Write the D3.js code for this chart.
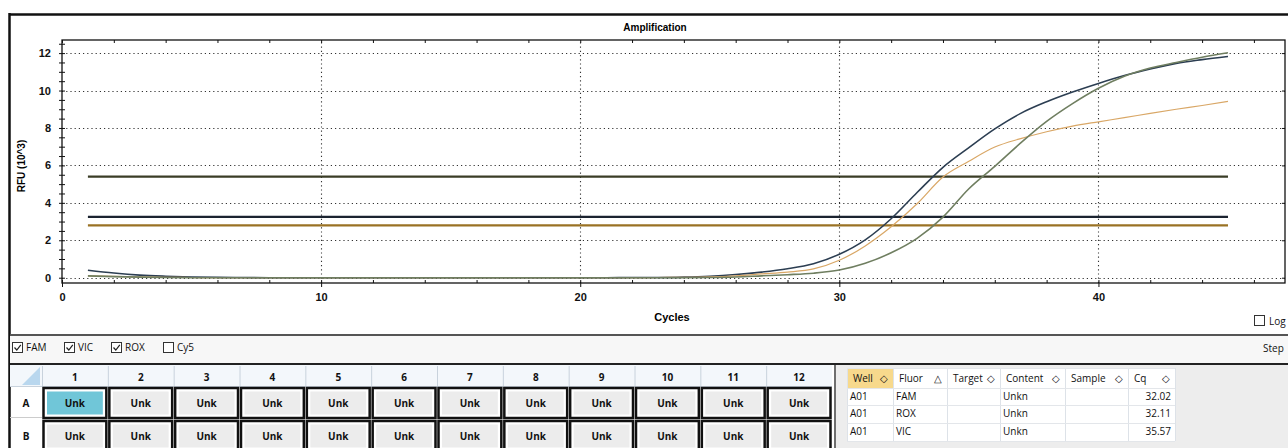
<!DOCTYPE html>
<html>
<head>
<meta charset="utf-8">
<script src="https://cdn.jsdelivr.net/npm/d3@7"></script>
<style>
  body { margin: 0; background: #fff; }
  svg { display: block; }
  .axis text { font-family: 'Liberation Sans', Arial, sans-serif; font-weight: bold; font-size: 11px; fill: #111; }
  .ui { font-family: 'Open Sans', 'Noto Sans', sans-serif; font-size: 10px; fill: #111; }
</style>
</head>
<body>
<svg id="chart" width="1288" height="448"></svg>
<script>
// amplification data (RFU x10^3 per cycle)
const cycles = d3.range(1, 46)
const famRfu = [0.40, 0.25, 0.14, 0.08, 0.04, 0.02, 0.01, 0.0, 0.0, 0.0,
  0.0, 0.0, 0.0, 0.0, 0.0, 0.0, 0.0, 0.0, 0.0, 0.0,
  0.0, 0.01, 0.01, 0.03, 0.08, 0.17, 0.30, 0.48, 0.75, 1.25,
  2.02, 3.15, 4.55, 5.90, 6.95, 7.95, 8.78, 9.40, 9.92, 10.38,
  10.80, 11.15, 11.45, 11.65, 11.82]
const roxRfu = [0.10, 0.07, 0.04, 0.02, 0.01, 0.0, 0.0, 0.0, 0.0, 0.0,
  0.0, 0.0, 0.0, 0.0, 0.0, 0.0, 0.0, 0.0, 0.0, 0.0,
  0.0, 0.0, 0.01, 0.02, 0.04, 0.10, 0.20, 0.30, 0.47, 0.93,
  1.70, 2.72, 3.95, 5.38, 6.22, 6.98, 7.43, 7.80, 8.10, 8.33,
  8.55, 8.78, 9.00, 9.20, 9.42]
const vicRfu = [0.10, 0.06, 0.03, 0.01, 0.0, 0.0, 0.0, 0.0, 0.0, 0.0,
  0.0, 0.0, 0.0, 0.0, 0.0, 0.0, 0.0, 0.0, 0.0, 0.0,
  0.0, 0.0, 0.0, 0.0, 0.01, 0.04, 0.10, 0.16, 0.24, 0.41,
  0.77, 1.33, 2.10, 3.24, 4.75, 5.95, 7.20, 8.35, 9.30, 10.12,
  10.76, 11.20, 11.50, 11.78, 12.02]
const seriesNames = ['FAM', 'ROX', 'VIC']
const seriesColors = ['#2c3e52', '#d9a766', '#6f7e60']
const thresholds = [5.4, 3.25, 2.8]
const thresholdColors = ['#3a3d26', '#1b2330', '#9a7224']
const xTicks = [0, 10, 20, 30, 40]
const yTicks = [0, 2, 4, 6, 8, 10, 12]

// well plate + results table
const fluors = ['FAM', 'VIC', 'ROX', 'Cy5']
const fluorChecked = [true, true, true, false]
const plateCols = d3.range(1, 13).map(String)
const plateRows = ['A', 'B']
const tableHeaders = ['Well', 'Fluor', 'Target', 'Content', 'Sample', 'Cq']
const tableWells = ['A01', 'A01', 'A01']
const tableFluors = ['FAM', 'ROX', 'VIC']
const tableContent = ['Unkn', 'Unkn', 'Unkn']
const tableCq = ['32.02', '32.11', '35.57']

const svg = d3.select('#chart')

const x = d3.scaleLinear().domain([0, 47.2]).range([62, 1285])
const y = d3.scaleLinear().domain([-0.283, 12.70]).range([283, 40])

// outer frame
svg.append('line').attr('x1', 9).attr('x2', 1288).attr('y1', 14.5).attr('y2', 14.5)
  .attr('stroke', '#111').attr('stroke-width', 2.5)
svg.append('line').attr('x1', 9.5).attr('x2', 9.5).attr('y1', 13).attr('y2', 448)
  .attr('stroke', '#111').attr('stroke-width', 2.5)

svg.append('text').attr('x', 655).attr('y', 31).attr('text-anchor', 'middle')
  .attr('font-family', 'Liberation Sans, Arial, sans-serif').attr('font-weight', 'bold')
  .attr('font-size', 10).text('Amplification')

// grid
const grid = svg.append('g').attr('stroke', '#333').attr('stroke-dasharray', '1.2,3').attr('stroke-width', 1.1)
grid.selectAll('.gy').data(yTicks).join('line')
  .attr('x1', x(0)).attr('x2', x.range()[1]).attr('y1', d => Math.round(y(d)) + 0.5).attr('y2', d => Math.round(y(d)) + 0.5)
grid.selectAll('.gx').data(xTicks.slice(1)).join('line')
  .attr('y1', y.range()[0]).attr('y2', y.range()[1]).attr('x1', d => Math.round(x(d)) + 0.5).attr('x2', d => Math.round(x(d)) + 0.5)

// plot box
svg.append('rect').attr('x', x(0)).attr('y', y.range()[1])
  .attr('width', x.range()[1] - x(0)).attr('height', y.range()[0] - y.range()[1])
  .attr('fill', 'none').attr('stroke', '#111').attr('stroke-width', 1.3)

// axes
const minorX = d3.range(0, 48, 2)
const minorY = d3.range(0, 12.6, 0.5)
const bottom = svg.append('g').attr('class', 'axis').attr('transform', `translate(0,${y.range()[0]})`)
  .call(d3.axisBottom(x).tickValues(xTicks).tickSize(4).tickPadding(6).tickFormat(d3.format('d')))
bottom.select('.domain').remove()
svg.append('g').attr('transform', `translate(0,${y.range()[0]})`)
  .call(d3.axisTop(x).tickValues(minorX).tickSize(3).tickFormat(''))
  .select('.domain').remove()
svg.append('g').attr('transform', `translate(0,${y.range()[1]})`)
  .call(d3.axisBottom(x).tickValues(minorX).tickSize(3).tickFormat(''))
  .select('.domain').remove()

const left = svg.append('g').attr('class', 'axis').attr('transform', `translate(${x(0)},0)`)
  .call(d3.axisLeft(y).tickValues(minorY).tickSize(3).tickPadding(8)
    .tickFormat(d => yTicks.includes(d) ? d : ''))
left.select('.domain').remove()
svg.append('g').attr('transform', `translate(${x(0)},0)`)
  .call(d3.axisRight(y).tickValues(minorY).tickSize(3).tickFormat(''))
  .select('.domain').remove()
svg.append('g').attr('transform', `translate(${x.range()[1]},0)`)
  .call(d3.axisLeft(y).tickValues(yTicks).tickSize(3).tickFormat(''))
  .select('.domain').remove()
svg.selectAll('.tick line').attr('stroke', '#111')

svg.append('text').attr('transform', 'translate(25,166) rotate(-90)').attr('text-anchor', 'middle')
  .attr('font-family', 'Liberation Sans, Arial, sans-serif').attr('font-weight', 'bold')
  .attr('font-size', 10).text('RFU (10^3)')
svg.append('text').attr('x', 672).attr('y', 321).attr('text-anchor', 'middle')
  .attr('font-family', 'Liberation Sans, Arial, sans-serif').attr('font-weight', 'bold')
  .attr('font-size', 11).text('Cycles')

// thresholds
svg.selectAll('.thr').data(thresholds).join('line')
  .attr('x1', x(1)).attr('x2', x(45)).attr('y1', d => y(d)).attr('y2', d => y(d))
  .attr('stroke', (d, i) => thresholdColors[i]).attr('stroke-width', 2.2)

// curves
const seriesData = [famRfu, roxRfu, vicRfu]
const line = d3.line().x((d, i) => x(cycles[i])).y(d => y(d)).curve(d3.curveMonotoneX)
svg.selectAll('.curve').data(seriesData).join('path')
  .attr('d', line).attr('fill', 'none')
  .attr('stroke', (d, i) => seriesColors[i]).attr('stroke-width', (d, i) => i === 1 ? 1.2 : 1.6)

// log checkbox
svg.append('rect').attr('x', 1254.5).attr('y', 315.5).attr('width', 10).attr('height', 10)
  .attr('fill', '#fff').attr('stroke', '#333')
svg.append('text').attr('class', 'ui').attr('x', 1269).attr('y', 325).text('Log')

// fluor bar
svg.append('rect').attr('x', 10).attr('y', 335).attr('width', 1278).attr('height', 29).attr('fill', '#f7f7f7')
svg.append('line').attr('x1', 10).attr('x2', 1288).attr('y1', 335).attr('y2', 335).attr('stroke', '#555').attr('stroke-width', 2)
svg.append('line').attr('x1', 10).attr('x2', 1288).attr('y1', 364).attr('y2', 364).attr('stroke', '#222').attr('stroke-width', 2)
const fluorX = [12, 64, 111, 163]
const fl = svg.selectAll('.fl').data(fluors).join('g').attr('transform', (d, i) => `translate(${fluorX[i]},342)`)
fl.append('rect').attr('x', 0.5).attr('y', 0.5).attr('width', 10).attr('height', 10).attr('fill', '#fff').attr('stroke', '#333')
fl.filter((d, i) => fluorChecked[i]).append('path').attr('d', 'M2.5,5.5 L4.8,8 L8.8,2.8')
  .attr('fill', 'none').attr('stroke', '#222').attr('stroke-width', 1.2)
fl.append('text').attr('class', 'ui').attr('x', 14).attr('y', 9).text(d => d)
svg.append('text').attr('class', 'ui').attr('x', 1263).attr('y', 352).text('Step')

// plate grid
const colX = d3.scaleBand().domain(plateCols).range([42, 832])
const rowY = d3.scaleBand().domain(plateRows).range([387, 453])
svg.append('rect').attr('x', 10).attr('y', 365).attr('width', 822).attr('height', 22).attr('fill', '#f3f7fb')
svg.append('path').attr('d', 'M40,367 L40,385 L22,385 Z').attr('fill', '#b9d7ee')
svg.selectAll('.colhead').data(plateCols).join('text').attr('class', 'ui')
  .attr('x', d => colX(d) + colX.bandwidth() / 2).attr('y', 381).attr('text-anchor', 'middle')
  .attr('font-weight', 'bold').text(d => d)
svg.selectAll('.colsep').data(plateCols).join('line')
  .attr('x1', d => colX(d) + 0.5).attr('x2', d => colX(d) + 0.5).attr('y1', 366).attr('y2', 386)
  .attr('stroke', '#c8d2dc')
svg.selectAll('.rowhead').data(plateRows).join('text').attr('class', 'ui')
  .attr('x', 26).attr('y', d => rowY(d) + 20).attr('text-anchor', 'middle')
  .attr('font-weight', 'bold').text(d => d)
svg.append('line').attr('x1', 10).attr('x2', 832).attr('y1', 386.5).attr('y2', 386.5).attr('stroke', '#c8d2dc')
svg.append('line').attr('x1', 10).attr('x2', 42).attr('y1', 417.5).attr('y2', 417.5).attr('stroke', '#ccc')

const wells = []
plateRows.forEach(r => plateCols.forEach(c => wells.push({ r, c })))
const w = svg.selectAll('.well').data(wells).join('g')
  .attr('transform', d => `translate(${colX(d.c)},${rowY(d.r)})`)
w.append('rect').attr('x', 1.5).attr('y', 1).attr('width', colX.bandwidth() - 3).attr('height', rowY.bandwidth() - 3)
  .attr('fill', '#fff').attr('stroke', '#111').attr('stroke-width', 2.5)
w.append('rect').attr('x', 5).attr('y', 4.5).attr('width', colX.bandwidth() - 10).attr('height', rowY.bandwidth() - 10)
  .attr('fill', d => d.r === 'A' && d.c === '1' ? '#70c6d8' : '#ececec')
w.append('text').attr('class', 'ui').attr('x', colX.bandwidth() / 2).attr('y', 20)
  .attr('text-anchor', 'middle').attr('font-weight', 'bold').text('Unk')

// results table
svg.append('rect').attr('x', 834).attr('y', 365).attr('width', 454).attr('height', 83).attr('fill', '#ededed')
svg.append('line').attr('x1', 835).attr('x2', 835).attr('y1', 365).attr('y2', 448).attr('stroke', '#444').attr('stroke-width', 1.5)
const tableColsX = [847, 893, 947, 1000, 1065, 1128, 1175]
const rowTop = [368, 388, 405, 423, 441]
svg.append('rect').attr('x', 847).attr('y', 368).attr('width', 328).attr('height', 73).attr('fill', '#fff')
svg.append('rect').attr('x', 847).attr('y', 368).attr('width', 46).attr('height', 20).attr('fill', '#f7d98c')
svg.selectAll('.tsep').data(tableColsX).join('line')
  .attr('x1', d => d + 0.5).attr('x2', d => d + 0.5).attr('y1', 368).attr('y2', 441).attr('stroke', '#dde2e8')
svg.selectAll('.hsep').data(rowTop).join('line')
  .attr('x1', 847).attr('x2', 1175).attr('y1', d => d + 0.5).attr('y2', d => d + 0.5).attr('stroke', '#e3e6ea')
svg.selectAll('.th').data(tableHeaders).join('text').attr('class', 'ui')
  .attr('x', (d, i) => tableColsX[i] + 6).attr('y', 382).text(d => d)
svg.selectAll('.sort').data(tableHeaders).join('text').attr('class', 'ui')
  .attr('x', (d, i) => tableColsX[i + 1] - 9).attr('y', 382).attr('text-anchor', 'middle')
  .text((d, i) => i === 1 ? '\u25B3' : '\u25C7')
const rowsG = svg.selectAll('.tr').data(tableWells).join('g')
  .attr('transform', (d, i) => `translate(0,${rowTop[i + 1] + 12})`)
rowsG.append('text').attr('class', 'ui').attr('x', 850).text(d => d)
rowsG.append('text').attr('class', 'ui').attr('x', 896).text((d, i) => tableFluors[i])
rowsG.append('text').attr('class', 'ui').attr('x', 1003).text((d, i) => tableContent[i])
rowsG.append('text').attr('class', 'ui').attr('x', 1171).attr('text-anchor', 'end').text((d, i) => tableCq[i])
</script>
</body>
</html>
